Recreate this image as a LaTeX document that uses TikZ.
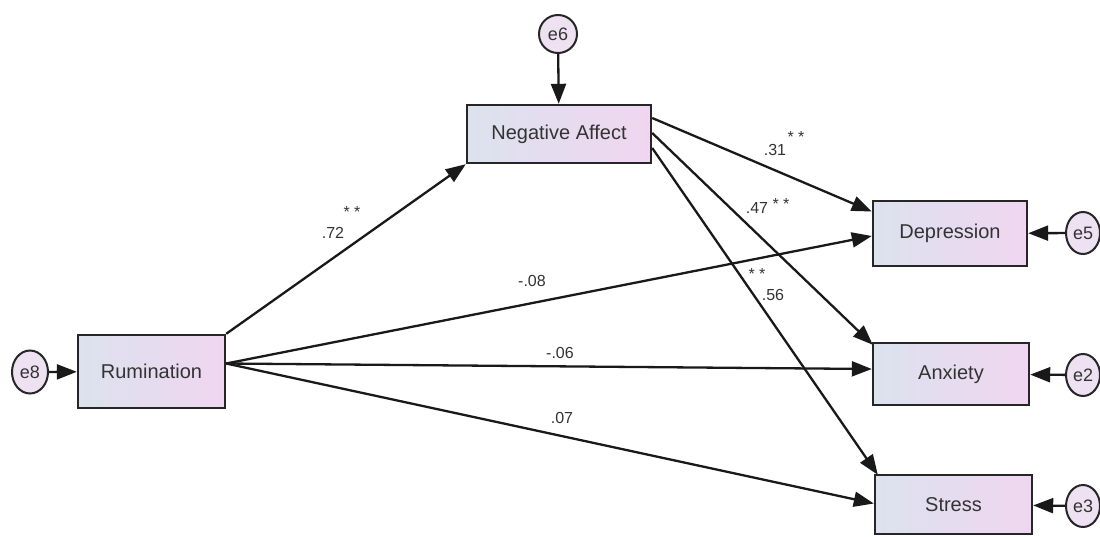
\documentclass[tikz,border=0pt]{standalone}
\usepackage{fontspec}
\setmainfont{Liberation Sans}
\usetikzlibrary{arrows.meta,calc,shapes.geometric}
\definecolor{boxL}{HTML}{DCE2EE}
\definecolor{boxR}{HTML}{F0D6F0}
\definecolor{errF}{HTML}{EEE2F2}
\begin{document}
\begin{tikzpicture}[x=1pt,y=-1pt,
  var/.style={draw=black!85,line width=2.4pt,left color=boxL,right color=boxR,
    inner sep=0pt,font=\fontsize{20}{24}\selectfont,text=black!80},
  err/.style={draw=black!85,line width=2pt,fill=errF,ellipse,inner sep=0pt,
    minimum width=34pt,minimum height=42pt,font=\fontsize{18}{21}\selectfont,text=black!80},
  path/.style={draw=black!90,line width=2.3pt,-{Triangle[length=20pt,width=15pt]}},
  lab/.style={font=\fontsize{16}{18}\selectfont,text=black!80,inner sep=0pt}]
\useasboundingbox (0,0) rectangle (1100,536);
% variables
\node[var,minimum width=147pt,minimum height=73pt] (rum) at (151.5,371.5) {Rumination};
\node[var,minimum width=184pt,minimum height=58pt] (na) at (559,134) {Negative Affect};
\node[var,minimum width=154pt,minimum height=65pt] (dep) at (950,233.5) {Depression};
\node[var,minimum width=156pt,minimum height=62pt] (anx) at (951,374) {Anxiety};
\node[var,minimum width=157pt,minimum height=59pt] (str) at (953.5,504.5) {Stress};
% errors
\node[err,minimum width=38pt,minimum height=38pt] (e6) at (558,34) {e6};
\node[err,minimum width=36pt,minimum height=43pt] (e8) at (30,372) {e8};
\node[err] (e5) at (1083,233) {e5};
\node[err] (e2) at (1083,375) {e2};
\node[err] (e3) at (1083,506) {e3};
% error arrows
\draw[path] (e6) -- (na);
\draw[path] (e8) -- (rum);
\draw[path] (e5) -- (dep);
\draw[path] (e2) -- (anx);
\draw[path] (e3) -- (str);
% structural paths
\coordinate (ro) at ($(rum.east)+(0,-8)$);
\draw[path] (rum.north east) -- (na.south west);
\draw[path] (ro) -- ($(dep.west)+(0,2.5)$);
\draw[path] (ro) -- ($(anx.west)+(0,-5)$);
\draw[path] (ro) -- ($(str.west)+(0,-1)$);
\draw[path] ($(na.east)+(0,-16)$) -- ($(dep.west)+(0,-22)$);
\draw[path] ($(na.east)+(0,-1)$) -- ($(anx.north west)+(1,3)$);
\draw[path] ($(na.east)+(0,14)$) -- ($(str.north west)+(4,1)$);
% labels
\node[lab] (l72) at (333,233) {.72};
\node[lab] (s72) at (352,212) {* *};
\node[lab] (l08) at (532,281) {-.08};
\node[lab] (l06) at (560,353) {-.06};
\node[lab] (l07) at (562,418) {.07};
\node[lab] (l31) at (775,150) {.31};
\node[lab] (s31) at (796,137) {* *};
\node[lab] (l47) at (757,208) {.47};
\node[lab] (s47) at (781,204) {* *};
\node[lab] (s56) at (757,274) {* *};
\node[lab] (l56) at (773,295) {.56};
\end{tikzpicture}
\end{document}
